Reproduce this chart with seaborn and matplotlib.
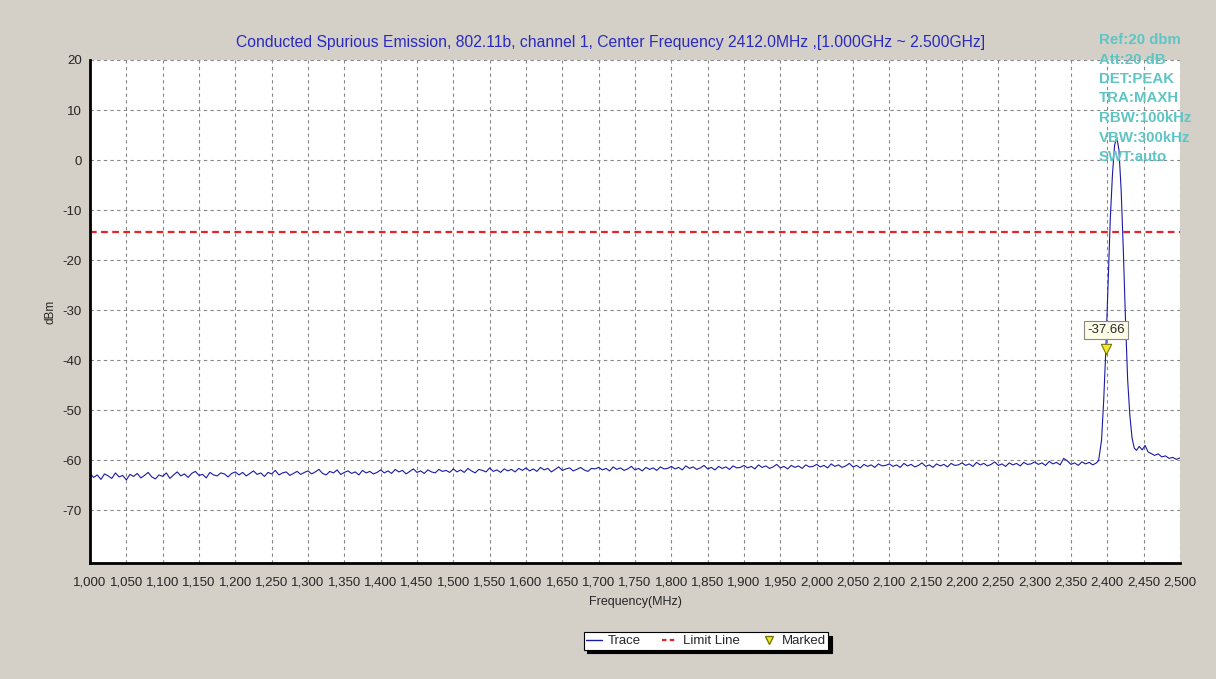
import numpy as np
import matplotlib
matplotlib.use("Agg")
import matplotlib.pyplot as plt
import seaborn as sns
from matplotlib.lines import Line2D
from matplotlib.ticker import MultipleLocator, FixedLocator, FuncFormatter

# noise floor, 1000..2385 MHz in 5 MHz steps
floor_start = 1000
floor_step = 5
floor_dbm = [
    -62.6, -63.4, -62.9, -63.8, -62.7, -63.1, -63.6, -62.5, -63.3, -63.0, -63.9, -62.8, -63.2, -62.6, -63.5, -63.0, -62.4, -63.3, -63.7, -62.9,
    -63.2, -62.5, -63.6, -62.9, -62.3, -63.1, -62.7, -63.4, -62.6, -62.2, -63.0, -62.8, -63.5, -62.4, -62.9, -63.1, -62.5, -62.7, -63.3, -62.6,
    -62.3, -62.9, -62.4, -63.1, -62.6, -62.1, -62.8, -62.5, -63.2, -62.4, -62.7, -62.0, -62.9, -62.5, -62.3, -63.0, -62.6, -62.2, -62.8, -62.4,
    -62.1, -62.7, -62.3, -61.8, -62.6, -62.9, -62.2, -62.5, -61.9, -62.8, -62.4, -62.1, -62.6, -62.3, -62.9, -62.0, -62.5, -62.2, -62.7, -62.4,
    -61.9, -62.5, -62.1, -62.6, -61.8, -62.3, -62.0, -62.7, -62.2, -61.7, -62.4, -62.1, -62.6, -61.9, -62.3, -62.5, -61.8, -62.2, -62.0, -62.4,
    -61.7, -62.3, -61.9, -62.4, -61.6, -62.1, -62.5, -61.8, -62.0, -62.3, -61.5, -62.2, -61.9, -62.4, -61.7, -62.1, -61.8, -62.3, -61.6, -62.0,
    -61.5, -62.1, -61.7, -62.2, -61.4, -61.9, -61.6, -62.3, -61.8, -61.3, -62.0, -61.7, -61.5, -62.1, -61.8, -61.4, -61.9, -62.2, -61.6, -61.7,
    -61.4, -61.9, -61.6, -62.1, -61.3, -61.8, -61.5, -62.0, -61.7, -61.2, -61.9, -61.6, -62.1, -61.4, -61.8, -61.5, -62.0, -61.3, -61.7, -61.6,
    -61.2, -61.7, -61.4, -61.9, -61.1, -61.6, -61.3, -61.8, -61.5, -61.0, -61.7, -61.4, -61.9, -61.2, -61.6, -61.3, -61.8, -61.1, -61.5, -61.4,
    -61.0, -61.5, -61.2, -61.7, -60.9, -61.4, -61.1, -61.6, -61.3, -60.8, -61.5, -61.2, -61.7, -61.0, -61.4, -61.1, -61.6, -60.9, -61.3, -61.2,
    -60.8, -61.3, -61.0, -61.5, -60.7, -61.2, -60.9, -61.4, -61.1, -60.6, -61.3, -61.0, -61.5, -60.8, -61.2, -60.9, -61.4, -60.7, -61.1, -61.0,
    -60.7, -61.2, -60.9, -61.4, -60.6, -61.1, -60.8, -61.3, -61.0, -60.5, -61.2, -60.9, -61.4, -60.7, -61.1, -60.8, -61.3, -60.6, -61.0, -60.9,
    -60.5, -61.0, -60.7, -61.2, -60.4, -60.9, -60.6, -61.1, -60.8, -60.3, -61.0, -60.7, -61.2, -60.5, -60.9, -60.6, -61.1, -60.4, -60.8, -60.7,
    -60.3, -60.8, -60.5, -61.0, -60.2, -60.7, -60.4, -60.9, -59.6, -60.1, -60.8, -60.5, -61.0, -60.3, -60.7, -60.4, -60.9, -60.5,
]

# carrier region
peak_mhz = [2388, 2392, 2395, 2398, 2401, 2404, 2407, 2410, 2413, 2416, 2419, 2422, 2425, 2428, 2431,
            2434, 2437, 2440, 2444, 2448, 2452, 2456, 2460, 2465, 2470, 2475, 2480, 2485, 2490, 2495, 2500]
peak_dbm = [-60.0, -56.0, -48.0, -37.66, -25.0, -12.0, -3.0, 3.0, 4.6, 2.0, -6.0, -18.0, -32.0, -44.0, -51.0,
            -55.5, -57.5, -58.0, -57.2, -57.9, -57.0, -58.3, -58.6, -59.0, -58.7, -59.3, -59.1, -59.6, -59.4, -59.8, -59.5]

limit_dbm = -14.3
marker_mhz = 2398
marker_dbm = -37.66
y_ticks = [20, 10, 0, -10, -20, -30, -40, -50, -60, -70]

title = "Conducted Spurious Emission, 802.11b, channel 1, Center Frequency 2412.0MHz ,[1.000GHz ~ 2.500GHz]"
settings = ["Ref:20 dbm", "Att:20 dB", "DET:PEAK", "TRA:MAXH", "RBW:100kHz", "VBW:300kHz", "SWT:auto"]

freq = list(floor_start + floor_step * np.arange(len(floor_dbm))) + peak_mhz
level = floor_dbm + peak_dbm

sns.set_style("white")
plt.rcParams["font.family"] = ["Liberation Sans", "DejaVu Sans"]
plt.rcParams["axes.unicode_minus"] = False

bg = "#d4d0c8"
fig = plt.figure(figsize=(12.16, 6.79), dpi=100, facecolor=bg)
ax = fig.add_axes([90 / 1216, 1 - 563 / 679, 1090 / 1216, 503 / 679])
ax.set_facecolor("white")

sns.lineplot(x=freq, y=level, ax=ax, color="#1a1aa6", linewidth=0.8, sort=False)
ax.axhline(limit_dbm, color="#e8202a", linestyle=(0, (3, 2)), linewidth=1.6)
sns.scatterplot(x=[marker_mhz], y=[marker_dbm], ax=ax, marker="v", s=55,
                color="#f2e830", edgecolor="#7a7a00", linewidth=0.8, zorder=5)
ax.annotate(f"{marker_dbm:.2f}", xy=(marker_mhz, marker_dbm), xytext=(marker_mhz, marker_dbm + 3.7),
            ha="center", va="center", fontsize=9.5,
            bbox=dict(boxstyle="square,pad=0.25", fc="#fffde8", ec="#888888", lw=0.8))

ax.set_xlim(1000, 2500)
ax.set_ylim(-80.5, 20)
ax.xaxis.set_major_locator(MultipleLocator(50))
ax.xaxis.set_minor_locator(MultipleLocator(10))
ax.yaxis.set_major_locator(FixedLocator(y_ticks))
ax.yaxis.set_minor_locator(MultipleLocator(5))
ax.xaxis.set_major_formatter(FuncFormatter(lambda v, p: f"{int(v):,}"))
ax.grid(True, which="major", color="#888888", linestyle=(0, (3, 3)), linewidth=0.8)
ax.tick_params(axis="both", which="major", labelsize=9.5, length=4, width=0.8, direction="out", color="#555555")
ax.tick_params(axis="both", which="minor", length=2, width=0.6, direction="out", color="#555555")
ax.tick_params(axis="x", pad=6)
ax.tick_params(axis="y", pad=2)
for side in ["top", "right"]:
    ax.spines[side].set_visible(False)
for side in ["left", "bottom"]:
    ax.spines[side].set_linewidth(2)
    ax.spines[side].set_color("black")

ax.set_xlabel("Frequency(MHz)", fontsize=9, labelpad=5)
ax.set_ylabel("dBm", fontsize=8.5, labelpad=4)

fig.text(611 / 1216, 1 - 42 / 679, title, ha="center", va="center", color="#2a2ac0", fontsize=11.3)
for i, s in enumerate(settings):
    fig.text(1099 / 1216, 1 - (40 + i * 19.5) / 679, s, ha="left", va="center",
             color="#5fc4c4", fontsize=10.8, fontweight="bold")

handles = [Line2D([], [], color="#1a1aa6", lw=1),
           Line2D([], [], color="#e8202a", lw=1.6, linestyle=(0, (2, 1.5))),
           Line2D([], [], color="#f2e830", marker="v", linestyle="none", markersize=6, markeredgecolor="#7a7a00")]
leg = fig.legend(handles, ["Trace", "Limit Line", "Marked"], loc="center", bbox_to_anchor=(706 / 1216, 1 - 641 / 679),
                 ncol=3, fontsize=9.5, frameon=True, fancybox=False,
                 shadow={"color": "black", "alpha": 1.0, "ox": 2.5, "oy": -2.5},
                 handlelength=1.2, handletextpad=0.4, columnspacing=1.6, borderpad=0.2, edgecolor="black")
leg.get_frame().set_linewidth(0.8)

fig.savefig("out.png", dpi=100, facecolor=bg)
